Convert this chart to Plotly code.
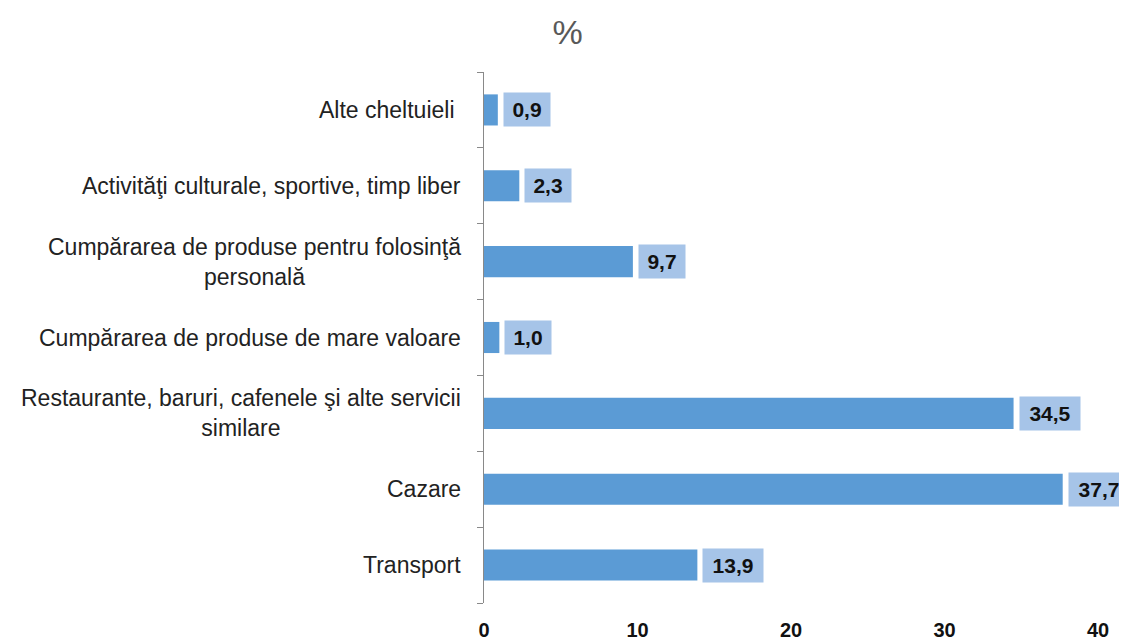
import plotly.graph_objects as go

categories = [
    "Transport",
    "Cazare",
    "Restaurante, baruri, cafenele şi alte servicii<br>similare",
    "Cumpărarea de produse de mare valoare",
    "Cumpărarea de produse pentru folosinţă<br>personală",
    "Activităţi culturale, sportive, timp liber",
    "Alte cheltuieli\u00a0",
]
values = [13.9, 37.7, 34.5, 1.0, 9.7, 2.3, 0.9]
value_labels = ["13,9", "37,7", "34,5", "1,0", "9,7", "2,3", "0,9"]
x_ticks = [0, 10, 20, 30, 40]
x_tick_text = ["0", "10", "20", "30", "40"]
title_text = "%"

FONT = "Liberation Sans, Arial, sans-serif"
ids = [f"c{i}" for i in range(len(categories))]

fig = go.Figure()
fig.add_trace(go.Bar(
    y=ids, x=values, orientation="h", width=0.41,
    marker=dict(color="#5B9BD5", line=dict(width=0)),
    hoverinfo="skip",
))

annotations = []
for cid, v, lab in zip(ids, values, value_labels):
    annotations.append(dict(
        x=v, y=cid, xref="x", yref="y", xanchor="left", yanchor="middle",
        xshift=5, text=lab, showarrow=False,
        font=dict(family=FONT, size=21, color="#111111", weight="bold"),
        bgcolor="#A6C4E8", borderpad=4, width=14 * len(lab) - 4, height=25,
        align="center",
    ))
for cid, cat in zip(ids, categories):
    annotations.append(dict(
        x=0, y=cid, xref="paper", yref="y", xanchor="right", yanchor="middle",
        xshift=-21, text=cat, showarrow=False, align="center",
        font=dict(family=FONT, size=23, color="#222222"),
    ))

fig.update_layout(
    width=1119, height=634,
    paper_bgcolor="white", plot_bgcolor="white",
    margin=dict(l=476, r=29, t=64, b=39, autoexpand=False),
    showlegend=False,
    title=dict(text=title_text, x=0.5, xanchor="center", y=0.962, yanchor="middle",
               font=dict(family=FONT, size=34, color="#595959")),
    xaxis=dict(range=[0, 40], tickvals=x_ticks, ticktext=x_tick_text,
               showgrid=False, zeroline=False, automargin=False,
               showline=False, ticks="", ticklabelstandoff=13,
               tickfont=dict(family=FONT, size=20, color="#111111", weight="bold")),
    yaxis=dict(categoryorder="array", categoryarray=ids, showticklabels=False,
               showgrid=False, zeroline=False, showline=True, linecolor="#898989",
               linewidth=1, ticks="outside", ticklen=6, tickcolor="#898989",
               tickson="boundaries", range=[-0.5, len(ids) - 0.5], automargin=False),
    annotations=annotations,
    bargap=0.59,
)

fig.write_html("out.html")
